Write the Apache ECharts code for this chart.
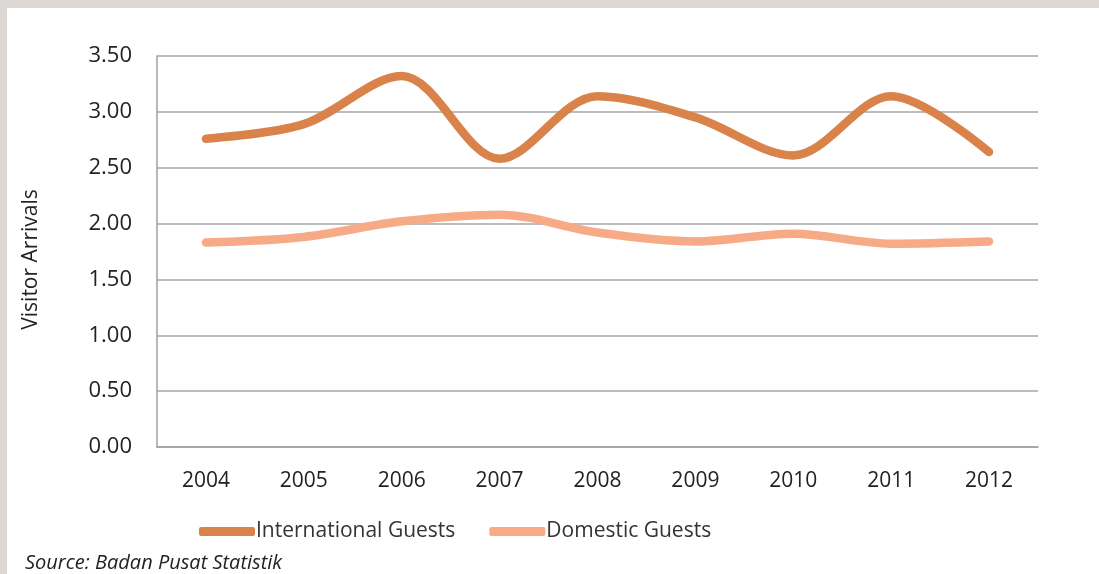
<!DOCTYPE html>
<html><head><meta charset="utf-8">
<script src="https://cdn.jsdelivr.net/npm/echarts@6/dist/echarts.min.js"></script>
<style>html,body{margin:0;padding:0;background:#dcd8d6}#c{width:1099px;height:574px}</style>
</head><body><div id="c"></div>
<script>
const years = ['2004','2005','2006','2007','2008','2009','2010','2011','2012'];
const international = [2.76, 2.89, 3.32, 2.58, 3.14, 2.95, 2.61, 3.14, 2.64];
const domestic = [1.83, 1.88, 2.02, 2.08, 1.92, 1.84, 1.91, 1.82, 1.84];
const yTicks = [0, 0.5, 1, 1.5, 2, 2.5, 3, 3.5];

const FONT = '"Open Sans", "Noto Sans", sans-serif';
const chart = echarts.init(document.getElementById('c'));
chart.setOption({
  backgroundColor: '#dcd8d6',
  animation: false,
  graphic: [
    {type:'rect', z:-10, shape:{x:7,y:8,width:1092,height:566}, style:{fill:'#ffffff'}},
    {type:'text', left:25, top:553, style:{text:'Source: Badan Pusat Statistik', font:'italic 20px '+FONT, fill:'#222'}}
  ],
  grid: {left:157, right:61, top:56, bottom:127},
  legend: {
    left: 194, top: 516,
    itemWidth: 56, itemHeight: 9, itemGap: 34,
    icon: 'roundRect',
    textStyle: {fontFamily: FONT, fontSize: 21, color:'#333', padding:[0,0,0,-4]},
    data: ['International Guests','Domestic Guests']
  },
  xAxis: {
    type:'category', data: years, boundaryGap: true,
    axisLine:{lineStyle:{color:'#a0a0a0', width:1.5}},
    axisTick:{show:false},
    axisLabel:{fontFamily:FONT, fontSize:21, color:'#222', margin:24}
  },
  yAxis: {
    type:'value', min:0, max:3.5, interval:0.5,
    name:'Visitor Arrivals', nameLocation:'middle', nameGap:115,
    nameTextStyle:{fontFamily:FONT, fontSize:21, color:'#222', padding:[0,16,0,0]},
    axisLine:{show:true, lineStyle:{color:'#a0a0a0', width:1.5}},
    axisTick:{show:false},
    splitLine:{lineStyle:{color:'#a6a6a6', width:1.5}},
    axisLabel:{fontFamily:FONT, fontSize:22, color:'#222', margin:25,
      formatter: v => yTicks.includes(v) ? v.toFixed(2) : ''}
  },
  series: [
    {name:'International Guests', type:'line', data: international, smooth:0.33, symbol:'none',
     lineStyle:{width:8.5, color:'#d9824a', cap:'round'}, itemStyle:{color:'#d9824a'}},
    {name:'Domestic Guests', type:'line', data: domestic, smooth:0.33, symbol:'none',
     lineStyle:{width:8.5, color:'#f6ab86', cap:'round'}, itemStyle:{color:'#f6ab86'}}
  ]
});
</script></body></html>
